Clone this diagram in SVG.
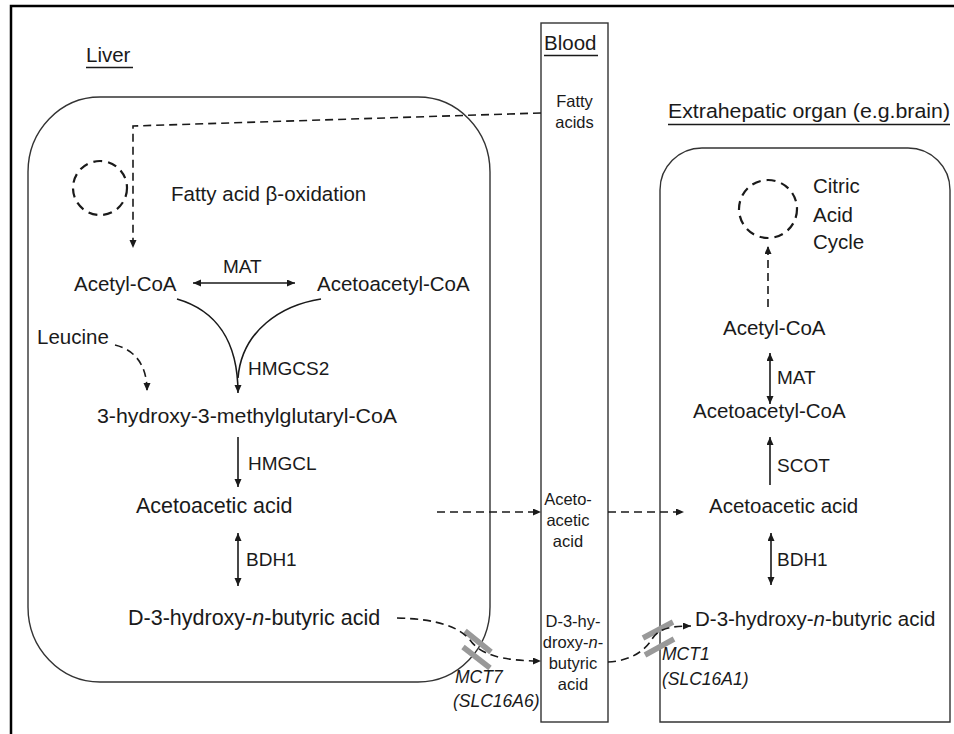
<svg xmlns="http://www.w3.org/2000/svg" width="954" height="734" viewBox="0 0 954 734">
<style>
text{font-family:"Liberation Sans",Arial,sans-serif;fill:#1a1a1a}
.t{font-size:20.5px}
.tl{font-size:21.5px}
.e{font-size:19px}
.s{font-size:16.5px}
.m{font-size:17.5px;font-style:italic}
.mid{text-anchor:middle}
.box{fill:none;stroke:#333;stroke-width:1.4}
.ln{fill:none;stroke:#1a1a1a;stroke-width:1.6}
.ds{fill:none;stroke:#1a1a1a;stroke-width:1.6;stroke-dasharray:8 5}
.dc{fill:none;stroke:#1a1a1a;stroke-width:2.2;stroke-dasharray:9 6}
.ul{stroke:#1a1a1a;stroke-width:1.4}
.mct{stroke:#999;stroke-width:5.5;stroke-linecap:butt}
</style>
<defs>
<marker id="arr" markerUnits="userSpaceOnUse" markerWidth="9" markerHeight="8" refX="8" refY="3.5" orient="auto-start-reverse">
<path d="M0,0 L8,3.5 L0,7 Z" fill="#1a1a1a"/>
</marker>
</defs>

<path d="M11,734 V6 H954" fill="none" stroke="#000" stroke-width="2.5"/>

<g id="liver">
<rect class="box" x="28" y="97" width="462" height="585" rx="72" ry="75"/>
<text class="t" x="86" y="62">Liver</text>
<line class="ul" x1="86" y1="67.5" x2="133" y2="67.5"/>
</g>

<g id="blood">
<rect class="box" x="541" y="23" width="67" height="699"/>
<text class="t" x="544" y="50">Blood</text>
<line class="ul" x1="544" y1="55.5" x2="598" y2="55.5"/>
</g>

<g id="extrahepatic">
<path class="box" d="M660,722 V190 A42,42 0 0 1 702,148 H908 A42,42 0 0 1 950,190 V722 Z"/>
<text class="t" x="668" y="118" textLength="282" lengthAdjust="spacingAndGlyphs">Extrahepatic organ (e.g.brain)</text>
<line class="ul" x1="668" y1="124.5" x2="950" y2="124.5"/>
</g>

<g id="blood-fatty-acids">
<text class="s mid" x="574.5" y="107">Fatty</text>
<text class="s mid" x="574.5" y="128">acids</text>
</g>

<g id="beta-oxidation">
<circle class="dc" cx="100" cy="188" r="27"/>
<text class="t" x="171" y="201">Fatty acid β-oxidation</text>
</g>

<g id="liver-acetyl-coa"><text class="t" x="74" y="291">Acetyl-CoA</text></g>
<g id="liver-acetoacetyl-coa"><text class="t" x="317" y="291">Acetoacetyl-CoA</text></g>
<g id="leucine"><text class="t" x="37" y="344">Leucine</text></g>
<g id="hmg-coa"><text class="t" x="97" y="423" textLength="300" lengthAdjust="spacingAndGlyphs">3-hydroxy-3-methylglutaryl-CoA</text></g>
<g id="liver-acetoacetic-acid"><text class="tl" x="136" y="513">Acetoacetic acid</text></g>
<g id="liver-bhb"><text class="tl" x="128" y="625">D-3-hydroxy-<tspan font-style="italic">n</tspan>-butyric acid</text></g>

<g id="blood-acetoacetic-acid">
<text class="s mid" x="568" y="505">Aceto-</text>
<text class="s mid" x="568" y="526">acetic</text>
<text class="s mid" x="568" y="547">acid</text>
</g>
<g id="blood-bhb">
<text class="s mid" x="573" y="627">D-3-hy-</text>
<text class="s mid" x="573" y="648">droxy-<tspan font-style="italic">n</tspan>-</text>
<text class="s mid" x="573" y="669">butyric</text>
<text class="s mid" x="573" y="690">acid</text>
</g>

<g id="citric-acid-cycle">
<circle class="dc" cx="768" cy="209" r="29"/>
<text class="t" x="813" y="193">Citric</text>
<text class="t" x="813" y="222">Acid</text>
<text class="t" x="813" y="249">Cycle</text>
</g>
<g id="ext-acetyl-coa"><text class="t" x="723" y="335">Acetyl-CoA</text></g>
<g id="ext-acetoacetyl-coa"><text class="t" x="693" y="418">Acetoacetyl-CoA</text></g>
<g id="ext-acetoacetic-acid"><text class="t" x="709" y="513">Acetoacetic acid</text></g>
<g id="ext-bhb"><text class="t" x="695" y="626">D-3-hydroxy-<tspan font-style="italic">n</tspan>-butyric acid</text></g>

<g id="mct7">
<line class="mct" x1="465" y1="631" x2="491" y2="652"/>
<line class="mct" x1="463" y1="647" x2="490" y2="668"/>
<text class="m" x="455" y="683">MCT7</text>
<text class="m" x="453" y="707">(SLC16A6)</text>
</g>
<g id="mct1">
<line class="mct" x1="643" y1="638" x2="673" y2="622"/>
<line class="mct" x1="645" y1="655" x2="674" y2="639"/>
<text class="m" x="662" y="660">MCT1</text>
<text class="m" x="662" y="685">(SLC16A1)</text>
</g>

<g id="connectors">
<polyline class="ds" points="541,113 133,126 133,248" marker-end="url(#arr)"/>
<line class="ln" x1="193" y1="283" x2="295" y2="283" marker-start="url(#arr)" marker-end="url(#arr)"/>
<path class="ln" d="M177,299 C215,310 238,340 238,393" marker-end="url(#arr)"/>
<path class="ln" d="M321,299 C282,305 242,330 238,378"/>
<path class="ds" d="M115,345 C135,350 147,365 147,391" marker-end="url(#arr)"/>
<line class="ln" x1="238" y1="437" x2="238" y2="487" marker-end="url(#arr)"/>
<line class="ln" x1="238" y1="533" x2="238" y2="586" marker-start="url(#arr)" marker-end="url(#arr)"/>
<line class="ds" x1="437" y1="512" x2="541" y2="512" marker-end="url(#arr)"/>
<line class="ds" x1="608" y1="512" x2="684" y2="512" marker-end="url(#arr)"/>
<path class="ds" d="M397,618 C440,619 460,628 470,640 C480,654 500,661 541,661" marker-end="url(#arr)"/>
<path class="ds" d="M608,662 C630,661 645,651 652,639 C659,628 672,626 691,626" marker-end="url(#arr)"/>
<line class="ds" x1="768" y1="307" x2="768" y2="246" marker-end="url(#arr)"/>
<line class="ln" x1="770" y1="353" x2="770" y2="404" marker-start="url(#arr)" marker-end="url(#arr)"/>
<line class="ln" x1="770" y1="485" x2="770" y2="437" marker-end="url(#arr)"/>
<line class="ln" x1="771" y1="533" x2="771" y2="585" marker-start="url(#arr)" marker-end="url(#arr)"/>
</g>

<g id="enzyme-labels">
<text class="e" x="223" y="273">MAT</text>
<text class="e" x="248" y="375">HMGCS2</text>
<text class="e" x="248" y="470">HMGCL</text>
<text class="e" x="246" y="566">BDH1</text>
<text class="e" x="777" y="384">MAT</text>
<text class="e" x="777" y="472">SCOT</text>
<text class="e" x="777" y="566">BDH1</text>
</g>
</svg>
